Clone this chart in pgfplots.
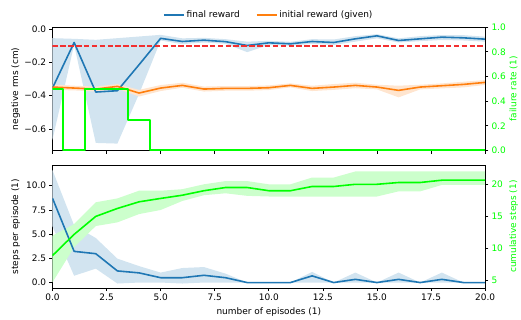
\documentclass[border=0pt]{standalone}
\usepackage{pgfplots}
\pgfplotsset{compat=1.18}
\usepackage{pgfplotstable}
\usepgfplotslibrary{fillbetween}
\usepackage{fontspec}
\setmainfont{DejaVu Sans}
\definecolor{tabblue}{HTML}{1F77B4}
\definecolor{taborange}{HTML}{FF7F0E}
\definecolor{limegreen}{HTML}{00FF00}
\definecolor{dashred}{HTML}{F23030}
\definecolor{bandblue}{HTML}{D2E4F0}
\definecolor{bandorange}{HTML}{FFE5CF}
\definecolor{bandgreen}{HTML}{CCFFCC}

\pgfplotstableread{
x fin finlo finhi ini inilo inihi
0 -0.354 -0.664 -0.054 -0.348 -0.365 -0.333
1 -0.080 -0.094 -0.058 -0.354 -0.368 -0.340
2 -0.378 -0.684 -0.064 -0.360 -0.375 -0.345
3 -0.370 -0.688 -0.054 -0.344 -0.358 -0.330
4 -0.214 -0.390 -0.044 -0.384 -0.405 -0.365
5 -0.055 -0.068 -0.034 -0.354 -0.372 -0.336
6 -0.074 -0.090 -0.055 -0.338 -0.352 -0.322
7 -0.066 -0.080 -0.052 -0.360 -0.375 -0.345
8 -0.075 -0.088 -0.060 -0.356 -0.370 -0.342
9 -0.098 -0.138 -0.075 -0.356 -0.370 -0.342
10 -0.082 -0.095 -0.070 -0.352 -0.366 -0.338
11 -0.088 -0.100 -0.076 -0.338 -0.350 -0.326
12 -0.074 -0.088 -0.060 -0.356 -0.372 -0.340
13 -0.080 -0.095 -0.062 -0.348 -0.365 -0.330
14 -0.058 -0.075 -0.042 -0.338 -0.355 -0.322
15 -0.040 -0.055 -0.030 -0.348 -0.362 -0.334
16 -0.068 -0.080 -0.055 -0.368 -0.410 -0.340
17 -0.058 -0.072 -0.042 -0.348 -0.362 -0.334
18 -0.048 -0.065 -0.035 -0.340 -0.356 -0.326
19 -0.052 -0.068 -0.036 -0.332 -0.350 -0.316
20 -0.060 -0.075 -0.045 -0.320 -0.335 -0.306
}\topdata

\pgfplotstableread{
x fail
0 0.5
1 0
2 0.5
3 0.5
4 0.25
5 0
6 0
7 0
8 0
9 0
10 0
11 0
12 0
13 0
14 0
15 0
16 0
17 0
18 0
19 0
20 0
}\faildata

\pgfplotstableread{
x y
0 -0.1
20 -0.1
}\threshdata

\pgfplotstableread{
x st stlo sthi cu culo cuhi
0 8.7 5.8 11.6 8.9 4.75 12.0
1 3.22 0.7 5.9 12.2 10.2 13.8
2 2.98 1.44 4.6 15.0 13.5 17.2
3 1.2 -0.1 2.47 16.24 14.07 17.8
4 1.0 0.0 1.7 17.27 15.36 19.0
5 0.5 0.0 1.03 17.8 16.0 19.0
6 0.5 -0.1 1.5 18.3 17.4 19.24
7 0.75 0.0 1.6 19.0 18.3 20.0
8 0.5 0.0 0.92 19.5 18.6 20.5
9 0 0 0 19.5 18.2 20.5
10 0 0 0 19.0 18.1 20.0
11 0 0 0 19.0 18.1 20.0
12 0.69 0.0 1.1 19.66 18.1 21.05
13 0 0 0 19.66 18.1 21.05
14 0.33 0 1.03 20.0 18.1 22.0
15 0 0 0 20.0 18.1 22.0
16 0.33 0 1.03 20.28 18.9 22.0
17 0 0 0 20.28 18.9 22.0
18 0.33 0 1.03 20.64 19.9 22.0
19 0 0 0 20.64 19.9 22.0
20 0 0 0 20.64 19.9 22.0
}\botdata

\begin{document}
\fontsize{9}{10.8}\selectfont
\begin{tikzpicture}[line join=round]
\path (0,0) rectangle (521pt,320pt);
\pgfplotsset{
  common/.style={scale only axis, width=434.3pt, anchor=south west,
    xmin=0, xmax=20, tick align=outside, major tick length=3.2pt,
    axis line style={line width=0.7pt},
    major tick style={black, line width=0.7pt},
    /pgf/number format/assume math mode=true,
    tick label style={font=\fontsize{9}{10.8}\selectfont},
    label style={font=\fontsize{9}{10.8}\selectfont},
    xtick={0,2.5,5,7.5,10,12.5,15,17.5,20},
    xticklabel style={/pgf/number format/.cd, fixed, fixed zerofill, precision=1},
  },
  leftax/.style={common, xtick pos=left, ytick pos=left,
    ylabel style={at={(axis description cs:-0.085,0.5)}, anchor=center}},
  rightax/.style={common, axis y line*=right, axis x line=none,
    yticklabel style={text=limegreen},
    ylabel style={at={(axis description cs:1.066,0.5)}, anchor=center, text=limegreen}},
  hiddenax/.style={common, hide axis},
}
% ---------- top ----------
\begin{axis}[leftax, at={(52.7pt,169pt)}, height=123.7pt,
  ymin=-0.729, ymax=0.012,
  ytick={-0.6,-0.4,-0.2,0}, yticklabels={−0.6,−0.4,−0.2,0.0},
  xticklabels={},
  ylabel={negative rms (cm)},
  legend style={draw=none, fill=none, at={(0.5,1.1)}, anchor=center,
    legend columns=2, font=\fontsize{9}{10.8}\selectfont,
    /tikz/every even column/.append style={column sep=14pt}},
  legend image code/.code={\draw[#1] (0pt,0pt) -- (20pt,0pt);},
]
\addplot[name path=fu, draw=none, forget plot] table[x=x, y=finhi] {\topdata};
\addplot[name path=fl, draw=none, forget plot] table[x=x, y=finlo] {\topdata};
\addplot[fill=bandblue, draw=none, forget plot] fill between[of=fu and fl];
\addplot[name path=iu, draw=none, forget plot] table[x=x, y=inihi] {\topdata};
\addplot[name path=il, draw=none, forget plot] table[x=x, y=inilo] {\topdata};
\addplot[fill=bandorange, draw=none, forget plot] fill between[of=iu and il];
\addplot[color=tabblue, line width=1.6pt] table[x=x, y=fin] {\topdata};
\addlegendentry{final reward}
\addplot[color=taborange, line width=1.6pt] table[x=x, y=ini] {\topdata};
\addlegendentry{initial reward (given)}
\addplot[dashred, line width=1.6pt, dash pattern=on 5.5pt off 2.4pt, forget plot] table[x=x, y=y] {\threshdata};
\end{axis}
\begin{axis}[rightax, at={(52.7pt,169pt)}, height=123.7pt,
  ymin=0, ymax=1, ytick={0,0.2,0.4,0.6,0.8,1},
  yticklabel style={/pgf/number format/.cd, fixed, fixed zerofill, precision=1},
  ylabel={failure rate (1)},
]
\addplot[green, line width=1.9pt, const plot mark mid] table[x=x, y=fail] {\faildata};
\end{axis}
% ---------- bottom ----------
\begin{axis}[leftax, at={(52.7pt,31pt)}, height=123pt,
  ymin=-0.55, ymax=12.1, ytick={0,2.5,5,7.5,10},
  yticklabel style={/pgf/number format/.cd, fixed, fixed zerofill, precision=1},
  ylabel={steps per episode (1)},
  xlabel={number of episodes (1)},
  xlabel style={at={(axis description cs:0.5,-0.195)}, anchor=center},
]
\addplot[name path=su, draw=none, forget plot] table[x=x, y=sthi] {\botdata};
\addplot[name path=sl, draw=none, forget plot] table[x=x, y=stlo] {\botdata};
\addplot[fill=bandblue, draw=none] fill between[of=su and sl];
\end{axis}
\begin{axis}[hiddenax, at={(52.7pt,31pt)}, height=123pt, ymin=3.87, ymax=22.95]
\addplot[name path=cu, draw=none, forget plot] table[x=x, y=cuhi] {\botdata};
\addplot[name path=cl, draw=none, forget plot] table[x=x, y=culo] {\botdata};
\addplot[fill=bandgreen, draw=none] fill between[of=cu and cl];
\end{axis}
\begin{axis}[hiddenax, at={(52.7pt,31pt)}, height=123pt, ymin=-0.55, ymax=12.1]
\addplot[color=tabblue, line width=1.6pt] table[x=x, y=st] {\botdata};
\end{axis}
\begin{axis}[rightax, at={(52.7pt,31pt)}, height=123pt,
  ymin=3.87, ymax=22.95, ytick={5,10,15,20},
  ylabel={cumulative steps (1)},
]
\addplot[color=limegreen, line width=1.6pt] table[x=x, y=cu] {\botdata};
\end{axis}
\end{tikzpicture}
\end{document}
